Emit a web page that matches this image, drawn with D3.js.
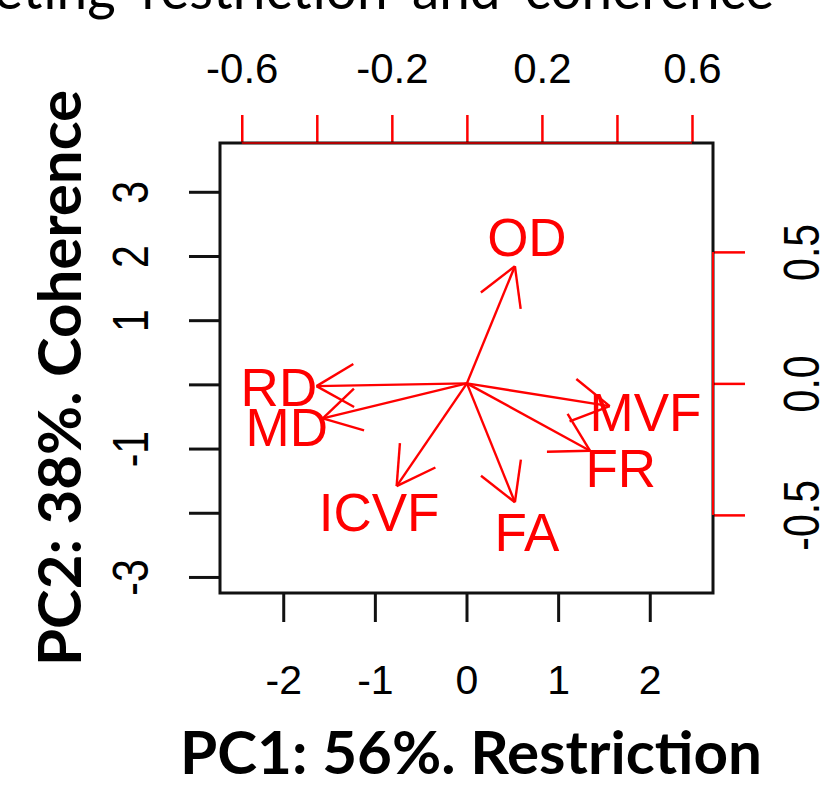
<!DOCTYPE html>
<html>
<head>
<meta charset="utf-8">
<script src="https://cdn.jsdelivr.net/npm/d3@7"></script>
<style>
  body { margin: 0; background: #fff; }
  svg { display: block; }
</style>
</head>
<body>
<div class="chart"></div>
<script>
// loadings for each diffusion metric (PC1, PC2)
const variables = ["OD", "RD", "MD", "MVF", "FR", "FA", "ICVF"];
const pc1Loadings = [0.160, -0.501, -0.480, 0.476, 0.410, 0.160, -0.234];
const pc2Loadings = [0.557, -0.013, -0.166, -0.108, -0.320, -0.565, -0.488];

const bottomTicks = [-2, -1, 0, 1, 2];
const bottomLabels = ["-2", "-1", "0", "1", "2"];
const leftTicks = [-3, -2, -1, 0, 1, 2, 3];
const leftLabels = ["-3", "", "-1", "", "1", "2", "3"];
const topTicks = [-0.6, -0.4, -0.2, 0, 0.2, 0.4, 0.6];
const topLabels = ["-0.6", "", "-0.2", "", "0.2", "", "0.6"];
const rightTicks = [-0.5, 0, 0.5];
const rightLabels = ["-0.5", "0.0", "0.5"];

const W = 828, H = 786;
const box = {left: 220, right: 713, top: 143, bottom: 593};
const red = "#ff0000";
const tickFont = "'Liberation Sans', Arial, sans-serif";

const svg = d3.select(".chart")
  .append("svg")
  .attr("width", W)
  .attr("height", H);

// score scales (bottom / left) and loading scales (top / right)
const x = d3.scaleLinear().domain([-2.69, 2.69]).range([box.left, box.right]);
const y = d3.scaleLinear().domain([-3.25, 3.76]).range([box.bottom, box.top]);
const xl = d3.scaleLinear().domain([-0.658, 0.656]).range([box.left, box.right]);
const yl = d3.scaleLinear().domain([-0.797, 0.914]).range([box.bottom, box.top]);

// cut-off slide title at the top
svg.append("text")
  .attr("x", -6)
  .attr("y", 9)
  .attr("textLength", 791)
  .attr("lengthAdjust", "spacingAndGlyphs")
  .style("font-family", "Lato, sans-serif")
  .style("font-size", "56px")
  .attr("fill", "#000")
  .text("eting \u2018restriction\u2019 and \u2018coherence\u2019");

// bottom axis
const gBottom = svg.append("g")
  .attr("transform", `translate(0, ${box.bottom})`)
  .call(d3.axisBottom(x).tickValues(bottomTicks).tickSize(29)
    .tickFormat((d, i) => bottomLabels[i]));
gBottom.select(".domain").remove();
gBottom.selectAll("line").attr("stroke", "#111").attr("stroke-width", 3);
gBottom.selectAll("text")
  .attr("y", 101).attr("dy", null)
  .style("font-family", tickFont).style("font-size", "41px").attr("fill", "#000");

// left axis
const gLeft = svg.append("g")
  .attr("transform", `translate(${box.left}, 0)`)
  .call(d3.axisLeft(y).tickValues(leftTicks).tickSize(31)
    .tickFormat((d, i) => leftLabels[i]));
gLeft.select(".domain").remove();
gLeft.selectAll("line").attr("stroke", "#111").attr("stroke-width", 3);
gLeft.selectAll("text")
  .attr("x", null).attr("dy", null)
  .attr("text-anchor", "middle")
  .attr("transform", "translate(-72, 0) rotate(-90) scale(0.82, 1)")
  .style("font-family", tickFont).style("font-size", "50px").attr("fill", "#000");

// top axis (loadings)
const gTop = svg.append("g")
  .attr("transform", `translate(0, ${box.top})`)
  .call(d3.axisTop(xl).tickValues(topTicks).tickSize(28)
    .tickFormat((d, i) => topLabels[i]));
gTop.select(".domain").remove();
gTop.selectAll("line").attr("stroke", red).attr("stroke-width", 2.5);
gTop.selectAll("text")
  .attr("y", -60).attr("dy", null)
  .attr("transform", "scale(1, 1)")
  .style("font-family", tickFont).style("font-size", "42px").attr("fill", "#000");

// right axis (loadings)
const gRight = svg.append("g")
  .attr("transform", `translate(${box.right}, 0)`)
  .call(d3.axisRight(yl).tickValues(rightTicks).tickSize(32)
    .tickFormat((d, i) => rightLabels[i]));
gRight.select(".domain").remove();
gRight.selectAll("line").attr("stroke", red).attr("stroke-width", 2.5);
gRight.selectAll("text")
  .attr("x", null).attr("dy", null)
  .attr("text-anchor", "middle")
  .attr("transform", "translate(106, 0) rotate(-90) scale(0.82, 1)")
  .style("font-family", tickFont).style("font-size", "50px").attr("fill", "#000");

// plot box
svg.append("rect")
  .attr("x", box.left).attr("y", box.top)
  .attr("width", box.right - box.left).attr("height", box.bottom - box.top)
  .attr("fill", "none").attr("stroke", "#111").attr("stroke-width", 3);

// red axis lines run from first to last tick, over the box edge
svg.append("line")
  .attr("x1", xl(topTicks[0])).attr("x2", xl(topTicks[topTicks.length - 1]))
  .attr("y1", box.top).attr("y2", box.top)
  .attr("stroke", "#b00000").attr("stroke-width", 2);
svg.append("line")
  .attr("x1", box.right).attr("x2", box.right)
  .attr("y1", yl(rightTicks[0])).attr("y2", yl(rightTicks[rightTicks.length - 1]))
  .attr("stroke", red).attr("stroke-width", 2);

// arrows (drawn to 0.8 x loading, as biplot does)
const loadings = variables.map((v, i) => ({name: v, pc1: pc1Loadings[i], pc2: pc2Loadings[i]}));
const headLen = 43, headAng = Math.PI / 6;
const ox = xl(0), oy = yl(0);

const arrows = svg.append("g")
  .attr("stroke", red)
  .attr("stroke-width", 2.4)
  .attr("fill", "none");

loadings.forEach(d => {
  const tx = xl(0.8 * d.pc1), ty = yl(0.8 * d.pc2);
  const back = Math.atan2(oy - ty, ox - tx);
  arrows.append("line")
    .attr("x1", ox).attr("y1", oy).attr("x2", tx).attr("y2", ty);
  [-headAng, headAng].forEach(a => {
    arrows.append("line")
      .attr("x1", tx).attr("y1", ty)
      .attr("x2", tx + headLen * Math.cos(back + a))
      .attr("y2", ty + headLen * Math.sin(back + a));
  });
});

svg.append("g")
  .selectAll("text")
  .data(loadings)
  .enter()
  .append("text")
  .attr("x", d => xl(d.pc1))
  .attr("y", d => yl(d.pc2))
  .attr("dy", "0.36em")
  .attr("text-anchor", "middle")
  .style("font-family", tickFont)
  .style("font-size", "53px")
  .attr("fill", red)
  .text(d => d.name);

// axis titles
svg.append("text")
  .attr("x", 471)
  .attr("y", 774)
  .attr("text-anchor", "middle")
  .attr("textLength", 582)
  .attr("lengthAdjust", "spacingAndGlyphs")
  .style("font-family", "Lato, sans-serif")
  .style("font-weight", "bold")
  .style("font-size", "60px")
  .attr("fill", "#000")
  .text("PC1: 56%. Restriction");

svg.append("text")
  .attr("transform", "translate(81, 378) rotate(-90)")
  .attr("text-anchor", "middle")
  .attr("textLength", 576)
  .attr("lengthAdjust", "spacingAndGlyphs")
  .style("font-family", "Lato, sans-serif")
  .style("font-weight", "bold")
  .style("font-size", "60px")
  .attr("fill", "#000")
  .text("PC2: 38%. Coherence");
</script>
</body>
</html>
